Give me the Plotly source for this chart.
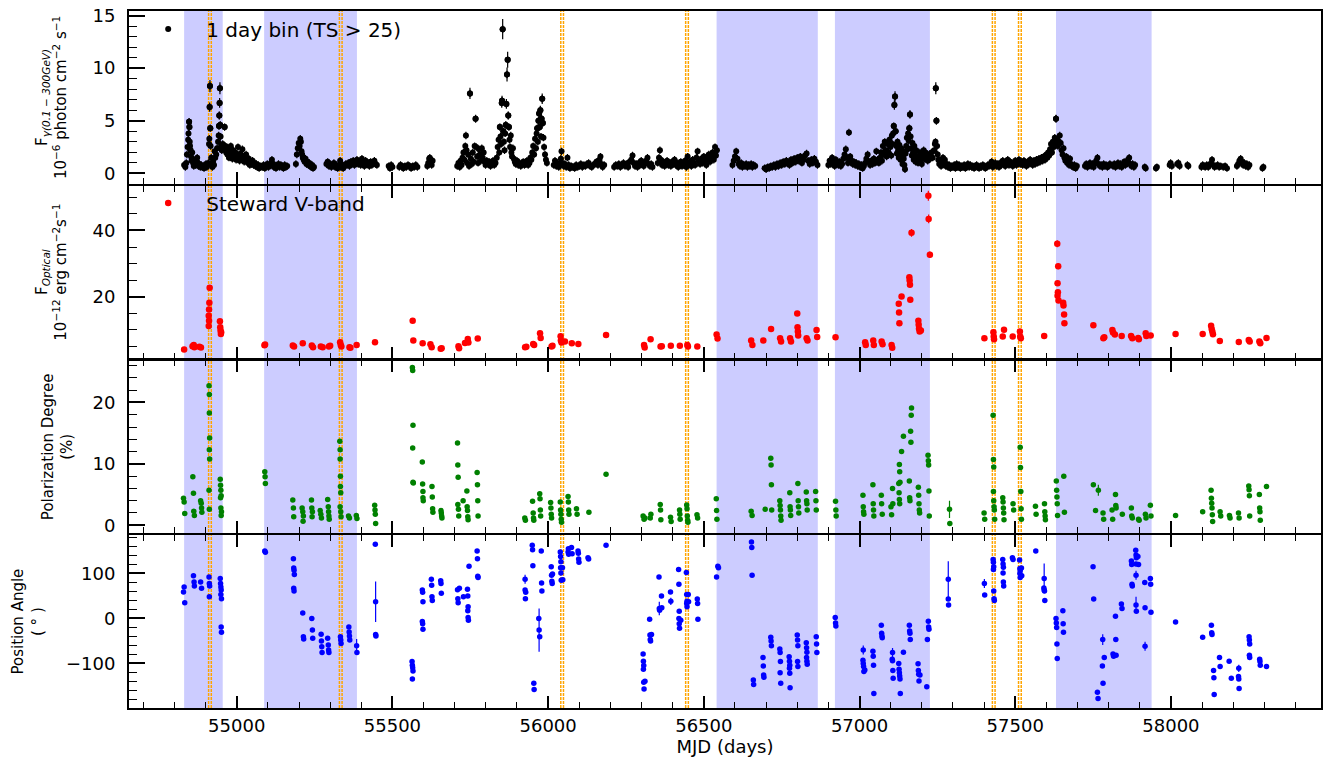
import plotly.graph_objects as go
from plotly.subplots import make_subplots

# ---------------- Fermi-LAT gamma-ray flux, 1 day bins ----------------
gamma_mjd = [
    54831, 54835, 54838, 54840, 54842, 54844, 54845, 54847, 54848, 54849,
    54850, 54852, 54853, 54855, 54857, 54858, 54860, 54862, 54864, 54866,
    54868, 54871, 54873, 54875, 54877, 54880, 54883, 54886, 54889, 54892,
    54895, 54898, 54901, 54904, 54907, 54909, 54911, 54912, 54913, 54914,
    54915, 54916, 54918, 54920, 54922, 54924, 54927, 54929, 54931, 54934,
    54937, 54940, 54942, 54943, 54944, 54945, 54946, 54947, 54948, 54950,
    54952, 54955, 54958, 54961, 54963, 54966, 54968, 54970, 54973, 54975,
    54978, 54981, 54983, 54986, 54989, 54992, 54995, 54998, 55001, 55004,
    55006, 55009, 55012, 55015, 55018, 55021, 55024, 55027, 55030, 55033,
    55036, 55039, 55042, 55045, 55048, 55051, 55054, 55057, 55060, 55063,
    55066, 55069, 55072, 55075, 55082, 55086, 55090, 55094, 55098, 55102,
    55106, 55110, 55113, 55116, 55119, 55122, 55126, 55130, 55134, 55138,
    55142, 55146, 55150, 55154, 55158, 55162, 55190, 55193, 55196, 55199,
    55202, 55204, 55206, 55208, 55210, 55212, 55215, 55218, 55221, 55224,
    55227, 55230, 55233, 55236, 55239, 55242, 55245, 55248, 55288, 55292,
    55296, 55300, 55304, 55308, 55312, 55316, 55320, 55324, 55328, 55332,
    55334, 55338, 55342, 55346, 55350, 55354, 55358, 55362, 55366, 55370,
    55374, 55378, 55382, 55386, 55390, 55394, 55398, 55402, 55406, 55410,
    55414, 55418, 55422, 55426, 55430, 55434, 55438, 55442, 55446, 55450,
    55488, 55492, 55496, 55500, 55522, 55526, 55530, 55535, 55540, 55545,
    55550, 55555, 55560, 55565, 55570, 55575, 55580, 55612, 55615, 55618,
    55620, 55623, 55626, 55629, 55708, 55712, 55716, 55719, 55722, 55725,
    55728, 55731, 55734, 55736, 55738, 55740, 55743, 55746, 55749, 55752,
    55755, 55758, 55761, 55764, 55767, 55769, 55772, 55775, 55778, 55781,
    55784, 55787, 55790, 55793, 55796, 55799, 55803, 55807, 55811, 55815,
    55819, 55823, 55827, 55831, 55835, 55838, 55841, 55843, 55845, 55847,
    55849, 55851, 55852, 55854, 55856, 55858, 55860, 55862, 55864, 55866,
    55868, 55870, 55872, 55874, 55876, 55878, 55880, 55882, 55884, 55887,
    55890, 55893, 55896, 55900, 55904, 55908, 55912, 55916, 55920, 55924,
    55928, 55932, 55936, 55940, 55943, 55946, 55949, 55952, 55955, 55958,
    55961, 55963, 55965, 55967, 55969, 55971, 55973, 55975, 55977, 55979,
    55981, 55983, 55985, 55987, 55990, 55993, 55996, 56018, 56022, 56026,
    56030, 56034, 56038, 56041, 56043, 56046, 56050, 56054, 56058, 56062,
    56066, 56070, 56075, 56080, 56085, 56090, 56095, 56100, 56105, 56110,
    56115, 56120, 56125, 56130, 56135, 56140, 56145, 56150, 56155, 56160,
    56165, 56168, 56171, 56175, 56180, 56212, 56217, 56222, 56227, 56232,
    56237, 56242, 56247, 56252, 56257, 56262, 56267, 56271, 56275, 56279,
    56283, 56287, 56291, 56295, 56299, 56303, 56307, 56311, 56315, 56319,
    56323, 56327, 56331, 56335, 56352, 56356, 56359, 56362, 56366, 56370,
    56374, 56378, 56382, 56386, 56390, 56394, 56398, 56402, 56406, 56410,
    56414, 56418, 56422, 56426, 56430, 56436, 56440, 56444, 56448, 56452,
    56456, 56460, 56464, 56468, 56472, 56476, 56480, 56484, 56488, 56492,
    56496, 56500, 56504, 56508, 56512, 56516, 56520, 56524, 56528, 56532,
    56536, 56539, 56542, 56592, 56596, 56600, 56604, 56608, 56612, 56616,
    56620, 56624, 56628, 56632, 56636, 56640, 56644, 56648, 56652, 56656,
    56660, 56665, 56695, 56700, 56705, 56710, 56715, 56720, 56725, 56730,
    56735, 56740, 56745, 56750, 56755, 56760, 56765, 56770, 56775, 56780,
    56785, 56790, 56795, 56800, 56805, 56810, 56815, 56820, 56825, 56830,
    56835, 56840, 56845, 56850, 56855, 56860, 56865, 56900, 56904, 56908,
    56912, 56916, 56920, 56924, 56928, 56932, 56936, 56940, 56944, 56948,
    56952, 56956, 56960, 56963, 56966, 56970, 56974, 56978, 56982, 56986,
    56990, 56994, 56998, 57002, 57006, 57010, 57014, 57018, 57022, 57026,
    57030, 57034, 57038, 57042, 57046, 57050, 57054, 57058, 57062, 57066,
    57069, 57072, 57075, 57078, 57081, 57084, 57087, 57090, 57093, 57096,
    57099, 57102, 57104, 57106, 57108, 57110, 57112, 57114, 57116, 57118,
    57120, 57122, 57124, 57126, 57128, 57130, 57132, 57134, 57136, 57138,
    57140, 57142, 57144, 57146, 57148, 57150, 57152, 57154, 57156, 57158,
    57160, 57162, 57164, 57166, 57168, 57170, 57172, 57174, 57176, 57178,
    57180, 57182, 57185, 57188, 57191, 57194, 57197, 57200, 57203, 57206,
    57209, 57212, 57215, 57219, 57223, 57227, 57231, 57235, 57240, 57242,
    57244, 57245, 57247, 57249, 57251, 57253, 57256, 57259, 57262, 57265,
    57268, 57271, 57274, 57277, 57280, 57284, 57288, 57292, 57296, 57300,
    57304, 57308, 57312, 57316, 57320, 57324, 57328, 57332, 57336, 57340,
    57344, 57348, 57352, 57356, 57360, 57364, 57368, 57372, 57376, 57380,
    57384, 57388, 57392, 57396, 57400, 57404, 57408, 57412, 57416, 57420,
    57424, 57428, 57432, 57436, 57440, 57444, 57448, 57452, 57456, 57460,
    57464, 57468, 57472, 57476, 57480, 57484, 57488, 57492, 57496, 57500,
    57504, 57508, 57512, 57516, 57520, 57524, 57528, 57532, 57536, 57540,
    57544, 57548, 57552, 57556, 57560, 57564, 57568, 57572, 57576, 57580,
    57584, 57588, 57592, 57596, 57600, 57603, 57606, 57609, 57612, 57615,
    57618, 57621, 57624, 57627, 57629, 57631, 57634, 57637, 57640, 57643,
    57646, 57649, 57652, 57655, 57658, 57661, 57664, 57667, 57670, 57673,
    57676, 57679, 57682, 57686, 57690, 57694, 57698, 57724, 57728, 57732,
    57736, 57740, 57744, 57748, 57752, 57756, 57760, 57764, 57768, 57772,
    57776, 57780, 57784, 57788, 57792, 57796, 57800, 57804, 57814, 57818,
    57822, 57826, 57830, 57834, 57838, 57842, 57846, 57850, 57854, 57858,
    57862, 57866, 57869, 57873, 57877, 57881, 57885, 57916, 57919, 57952,
    57955, 57996, 57999, 58003, 58020, 58024, 58028, 58053, 58056, 58098,
    58102, 58106, 58110, 58115, 58120, 58126, 58132, 58136, 58140, 58145,
    58150, 58155, 58160, 58168, 58174, 58180, 58212, 58216, 58220, 58224,
    58228, 58232, 58236, 58240, 58244, 58248, 58252, 58294, 58297,
]
gamma_flux = [
    0.8, 0.6, 1.0, 1.8, 2.5, 3.2, 3.8, 4.9, 4.4, 3.0,
    2.6, 2.2, 1.6, 1.2, 2.0, 1.4, 1.0, 0.7, 0.9, 1.2,
    0.8, 1.1, 1.5, 1.0, 0.7, 0.9, 0.6, 0.8, 0.6, 0.7,
    0.5, 0.7, 0.9, 0.6, 0.8, 1.0, 2.8, 3.3, 6.3, 8.3,
    4.3, 2.6, 1.5, 0.9, 0.6, 1.1, 0.8, 2.1, 1.5, 1.8,
    2.4, 3.0, 3.6, 4.5, 5.5, 6.7, 8.1, 4.6, 3.5, 2.6,
    2.2, 2.8, 2.4, 4.4, 2.6, 2.0, 2.5, 1.8, 2.2, 1.5,
    2.0, 2.6, 1.7, 1.4, 2.2, 1.6, 2.0, 1.3, 1.8, 2.5,
    1.5, 1.2, 1.9, 1.4, 2.3, 1.6, 1.1, 1.5, 1.8, 1.2,
    1.0, 1.4, 0.8, 1.1, 0.9, 1.2, 0.8, 1.0, 0.7, 0.9,
    0.6, 0.8, 0.5, 0.7, 0.6, 0.8, 0.5, 0.7, 0.9, 0.6,
    0.8, 1.0, 1.3, 0.9, 0.6, 0.8, 0.5, 0.7, 0.9, 0.6,
    0.8, 0.7, 0.5, 0.8, 0.6, 0.7, 0.9, 1.8, 2.4, 2.9,
    2.6, 3.3, 3.0, 2.1, 1.8, 1.5, 1.3, 1.1, 1.4, 0.9,
    1.1, 0.8, 1.0, 0.7, 0.6, 0.8, 0.5, 0.6, 0.9, 1.1,
    0.7, 0.9, 0.6, 0.8, 1.0, 0.6, 0.8, 0.5, 0.7, 1.2,
    0.6, 0.8, 0.5, 0.7, 0.9, 0.8, 1.0, 0.7, 1.1, 0.9,
    1.2, 0.8, 1.0, 1.3, 0.9, 1.1, 0.8, 1.4, 1.0, 0.7,
    1.2, 0.9, 1.0, 0.7, 1.1, 0.8, 1.0, 1.2, 0.9, 0.8,
    0.7, 0.5, 0.8, 0.6, 0.6, 0.8, 0.7, 0.5, 0.7, 0.6,
    0.8, 0.7, 0.5, 0.7, 0.6, 0.8, 0.6, 0.7, 1.0, 1.4,
    1.5, 1.1, 0.8, 1.2, 0.7, 1.0, 0.6, 1.2, 0.8, 1.5,
    2.0, 1.3, 2.6, 3.6, 2.2, 1.0, 1.8, 0.7, 7.6, 1.4,
    0.9, 2.0, 1.1, 2.6, 5.2, 2.5, 1.6, 1.0, 2.3, 1.8,
    1.2, 2.4, 1.5, 2.0, 1.1, 0.8, 1.2, 0.9, 1.1, 0.7,
    0.9, 1.2, 0.8, 1.0, 1.5, 2.5, 3.2, 2.0, 4.4, 3.5,
    2.8, 6.7, 6.9, 13.7, 4.0, 3.0, 2.2, 3.8, 4.6, 6.6,
    9.4, 10.8, 5.5, 4.4, 3.2, 2.5, 3.6, 2.0, 1.6, 2.4,
    1.4, 1.1, 0.9, 1.2, 0.8, 1.0, 0.7, 0.9, 1.1, 0.8,
    0.9, 1.2, 0.8, 1.0, 1.5, 1.3, 2.0, 2.6, 1.8, 3.3,
    2.4, 3.8, 4.3, 3.0, 5.0, 5.7, 4.4, 6.0, 3.5, 5.2,
    7.1, 4.8, 3.4, 2.5, 1.8, 1.3, 1.0, 0.8, 1.2, 0.7,
    1.0, 0.6, 0.9, 1.4, 2.1, 1.0, 0.7, 0.9, 0.6, 1.5,
    0.8, 0.5, 0.7, 0.6, 0.5, 0.8, 0.6, 0.7, 0.9, 0.6,
    0.8, 0.7, 0.9, 1.0, 0.7, 0.6, 0.8, 0.9, 1.1, 0.8,
    1.3, 1.6, 0.9, 0.6, 0.8, 0.6, 0.8, 0.7, 0.9, 0.6,
    0.8, 1.0, 0.7, 0.9, 0.6, 1.1, 1.3, 1.7, 1.0, 0.7,
    0.9, 0.6, 1.0, 0.8, 1.2, 0.9, 0.7, 1.0, 1.2, 1.5,
    0.9, 0.7, 0.9, 0.6, 1.0, 1.5, 2.2, 1.3, 0.8, 1.1,
    0.7, 0.9, 1.2, 0.8, 1.0, 0.7, 1.1, 0.9, 1.3, 0.8,
    1.0, 0.6, 0.9, 1.1, 0.7, 0.8, 1.2, 0.6, 1.6, 0.9,
    1.1, 0.7, 1.3, 1.0, 0.8, 1.5, 2.1, 1.2, 0.9, 1.4,
    1.0, 1.6, 1.2, 0.8, 1.4, 1.8, 1.1, 1.6, 2.0, 1.3,
    2.5, 1.7, 2.2, 0.8, 1.2, 1.6, 2.1, 1.4, 0.9, 0.7,
    1.0, 0.6, 0.8, 0.7, 0.9, 0.6, 0.8, 0.7, 0.9, 0.6,
    0.8, 0.7, 0.5, 0.4, 0.6, 0.5, 0.7, 0.6, 0.8, 0.6,
    0.9, 0.7, 1.0, 0.8, 1.1, 0.9, 1.2, 1.0, 0.8, 1.3,
    1.0, 1.4, 1.1, 1.5, 1.2, 1.6, 1.0, 1.3, 1.7, 1.9,
    1.2, 0.9, 1.3, 1.0, 1.4, 1.1, 0.8, 0.8, 1.2, 0.9,
    1.5, 1.0, 0.7, 1.3, 1.0, 0.8, 1.1, 0.7, 0.9, 1.4,
    1.8, 2.3, 1.5, 1.0, 3.9, 1.6, 1.2, 0.9, 1.1, 0.8,
    1.0, 0.7, 0.9, 0.6, 0.8, 0.5, 0.7, 1.0, 1.4, 1.8,
    1.1, 0.8, 1.2, 0.9, 1.4, 1.0, 2.1, 1.3, 1.0, 1.5,
    2.0, 1.2, 2.6, 1.8, 3.0, 2.2, 1.6, 2.8, 2.0, 3.2,
    2.5, 1.7, 3.6, 2.8, 3.8, 4.5, 6.5, 7.3, 4.0, 2.6,
    1.9, 3.0, 2.2, 1.5, 2.7, 2.0, 1.3, 2.4, 1.8, 0.9,
    2.1, 1.4, 0.8, 0.4, 1.9, 2.6, 3.4, 2.3, 3.8, 3.1,
    4.3, 5.6, 3.5, 2.4, 1.7, 2.9, 2.0, 1.3, 2.6, 1.8,
    1.1, 2.2, 1.5, 1.0, 1.6, 2.0, 1.2, 0.9, 1.7, 2.2,
    1.4, 2.0, 1.6, 1.2, 1.8, 1.4, 2.0, 1.5, 2.2, 2.8,
    3.0, 8.1, 5.0, 2.6, 1.8, 1.3, 0.9, 1.2, 0.7, 1.0,
    1.5, 0.9, 1.3, 0.7, 0.9, 0.6, 0.8, 0.5, 0.7, 0.6,
    0.8, 0.5, 0.9, 0.6, 0.8, 0.5, 0.7, 0.6, 0.8, 0.5,
    0.7, 0.9, 0.6, 0.8, 0.6, 0.7, 0.5, 0.7, 0.8, 0.6,
    0.5, 0.7, 0.6, 0.8, 0.7, 0.5, 0.6, 0.8, 0.7, 0.9,
    1.1, 0.6, 0.8, 1.0, 0.7, 0.9, 0.6, 1.0, 0.8, 1.2,
    0.9, 0.7, 1.0, 1.3, 0.8, 1.1, 0.9, 0.7, 1.0, 1.2,
    0.8, 1.0, 1.3, 0.9, 1.1, 0.8, 1.2, 1.0, 0.7, 1.1,
    0.9, 1.3, 1.0, 0.8, 1.2, 0.9, 1.3, 1.0, 1.4, 1.1,
    1.5, 1.2, 1.6, 1.3, 1.8, 1.5, 2.0, 1.7, 2.3, 2.8,
    2.0, 3.0, 2.5, 3.4, 2.7, 5.2, 3.2, 2.6, 3.0, 3.6,
    2.9, 2.2, 1.8, 2.4, 1.5, 1.2, 1.6, 1.0, 1.3, 0.8,
    1.4, 0.9, 0.7, 0.6, 0.8, 0.5, 0.7, 0.7, 0.9, 0.6,
    0.8, 1.0, 0.7, 0.9, 0.6, 1.0, 1.2, 1.5, 0.9, 0.7,
    0.8, 0.6, 0.9, 0.7, 0.8, 0.6, 0.7, 0.9, 0.7, 0.9,
    0.6, 0.8, 1.0, 0.7, 0.9, 0.6, 0.8, 1.1, 0.8, 1.0,
    1.3, 1.5, 0.9, 0.7, 0.9, 0.6, 0.8, 0.6, 0.5, 0.5,
    0.6, 0.8, 1.0, 0.7, 0.9, 1.0, 0.7, 0.8, 0.7, 0.6,
    0.8, 0.7, 0.6, 0.8, 0.6, 0.9, 1.3, 0.8, 0.6, 0.7,
    0.8, 0.6, 0.7, 0.6, 0.7, 0.5, 0.7, 0.9, 1.2, 1.4,
    1.1, 0.8, 1.0, 0.7, 0.9, 0.6, 0.8, 0.5, 0.6,
]

# ---------------- Steward optical V-band flux ----------------
opt_mjd = [
    54831, 54858, 54862, 54864, 54880, 54885,
    54913, 54912, 54911, 54910, 54911, 54910,
    54946, 54947, 54948, 54949, 54950,
    55091, 55089, 55180, 55184, 55212, 55241, 55245, 55270, 55276, 55296, 55300,
    55332, 55334, 55336, 55362, 55365, 55385, 55444,
    55565, 55567, 55597, 55622, 55626, 55655, 55658,
    55712, 55714, 55733, 55742, 55744, 55774,
    55926, 55930, 55952, 55955, 55974, 55976, 56011, 56014,
    56040, 56041, 56043, 56054, 56076, 56097, 56186,
    56308, 56310, 56329, 56361, 56365, 56394, 56423, 56447, 56449, 56479,
    56541, 56544, 56652, 56656, 56691, 56716, 56745, 56748, 56777, 56780,
    56800, 56801, 56802, 56803, 56830, 56833, 56862, 56864, 56923,
    57018, 57020, 57044, 57046, 57071, 57074, 57103, 57105,
    57126, 57128, 57127, 57135, 57160, 57161, 57162, 57163, 57167,
    57189, 57190, 57191, 57193, 57197,
    57221, 57222, 57226,
    57401, 57430, 57431, 57432, 57460, 57464, 57492, 57515, 57516, 57518, 57593,
    57635, 57638, 57636, 57637, 57636, 57639, 57654, 57655, 57657, 57658,
    57751, 57783, 57786, 57812, 57814, 57820, 57842, 57872, 57876, 57895, 57897,
    57919, 57921, 57935, 58015, 58102, 58129, 58131, 58133, 58135, 58157,
    58218, 58250, 58253, 58284, 58287, 58307,
]
opt_flux = [
    4.1, 5.1, 5.5, 4.8, 4.9, 4.7,
    22.7, 18.2, 16.2, 14.3, 12.8, 11.2,
    12.6, 10.8, 9.8, 8.8, 9.3,
    5.6, 5.4, 5.3, 5.0, 6.0, 5.3, 4.8, 5.0, 4.8, 5.0, 5.2,
    6.3, 5.5, 5.0, 4.8, 4.6, 5.5, 6.3,
    12.8, 6.8, 6.0, 5.7, 4.8, 4.3, 4.5,
    5.1, 4.5, 6.1, 7.3, 6.2, 7.4,
    4.8, 4.9, 5.8, 5.5, 9.0, 7.6, 5.0, 5.2,
    8.1, 6.8, 6.2, 6.5, 6.0, 5.8, 8.5,
    5.5, 4.7, 7.2, 5.0, 5.1, 5.2, 5.2, 5.5, 5.0, 5.0,
    8.6, 7.4, 6.8, 5.5, 6.8, 10.3, 7.5, 6.5, 7.5, 6.5,
    15.0, 10.8, 9.5, 8.3, 7.5, 6.8, 10.0, 7.9, 7.8,
    6.3, 5.5, 6.8, 5.5, 6.5, 5.7, 5.5, 4.6,
    17.9, 12.0, 15.3, 20.1, 25.9, 24.9, 23.6, 19.1, 39.3,
    12.8, 11.6, 10.4, 9.5, 9.8,
    50.5, 43.5, 32.7,
    7.5, 9.3, 8.0, 7.2, 8.0, 10.1, 8.0, 9.5, 8.0, 7.5, 8.2,
    36.0, 29.2, 24.1, 21.4, 20.3, 18.9, 18.2, 17.4, 14.7, 12.0,
    11.4, 7.5, 7.8, 10.0, 9.2, 8.6, 8.2, 8.2, 7.5, 7.6, 7.2,
    9.0, 8.2, 8.3, 8.8, 8.8, 11.3, 10.3, 9.5, 8.7, 6.7,
    6.4, 7.0, 6.5, 6.5, 6.0, 7.6,
]

# ---------------- Optical polarization degree (%) ----------------
pd_mjd = [
    54829, 54831, 54833,
    54859, 54861, 54862, 54864,
    54884, 54886, 54887, 54888,
    54911, 54912, 54912, 54913, 54912, 54913, 54911, 54912,
    54947, 54948, 54949, 54950, 54948, 54949, 54951, 54950,
    55090, 55091, 55092,
    55180, 55182, 55183,
    55210, 55212, 55213, 55214,
    55240, 55241, 55243, 55242,
    55268, 55270, 55272,
    55292, 55294, 55295, 55296, 55297,
    55331, 55332, 55332, 55333, 55333, 55334, 55332, 55334, 55335,
    55359, 55362, 55384, 55386,
    55443, 55444, 55445, 55446,
    55564, 55565, 55566, 55565, 55566, 55567,
    55596, 55597, 55598, 55598, 55599,
    55627, 55628, 55629, 55630,
    55656, 55657, 55658, 55659,
    55709, 55710, 55711, 55710, 55712, 55713,
    55727,
    55739, 55740, 55741, 55742, 55743,
    55772, 55773, 55774, 55775,
    55925, 55927,
    55950, 55952, 55953, 55954,
    55973, 55974, 55975, 55976,
    56008, 56009, 56010, 56011,
    56039, 56040, 56041, 56042, 56043,
    56064, 56065, 56066, 56067,
    56091, 56093, 56131, 56186,
    56305, 56308, 56311, 56328, 56330,
    56360, 56361, 56362, 56393, 56395,
    56422, 56423, 56424,
    56445, 56446, 56447, 56448, 56449,
    56478, 56480, 56540, 56541, 56542,
    56652, 56655, 56697,
    56715, 56716, 56717, 56718,
    56744, 56745, 56746, 56747, 56748,
    56776, 56777, 56778, 56779,
    56802, 56803, 56804, 56805,
    56829, 56830, 56831, 56832,
    56859, 56860, 56861,
    56923, 56924, 56925,
    57011, 57012, 57013, 57014,
    57043, 57044, 57045, 57046,
    57070, 57071, 57073,
    57101, 57103, 57106, 57107,
    57126, 57127, 57128, 57129, 57128, 57129, 57130,
    57135, 57141,
    57160, 57161, 57162,
    57164, 57165, 57166, 57167,
    57189, 57190, 57191, 57192, 57193,
    57220, 57221, 57222, 57223, 57224,
    57290, 57400, 57402,
    57429, 57430, 57431, 57430, 57431, 57432, 57433, 57434,
    57460, 57461, 57462, 57463, 57464,
    57493, 57495,
    57516, 57517, 57518, 57519, 57520,
    57565, 57567,
    57594, 57595, 57596, 57597,
    57632, 57633, 57634, 57635, 57636,
    57656, 57658, 57751, 57758,
    57782, 57784, 57811, 57813,
    57822, 57823, 57824, 57844,
    57873, 57874, 57876, 57896, 57898,
    57918, 57920, 57934, 57936,
    58015, 58102,
    58129, 58130, 58131, 58132, 58133, 58134,
    58158, 58160, 58188, 58190, 58217, 58219,
    58250, 58251, 58252, 58253,
    58284, 58285, 58286, 58287,
    58307,
]
pd_val = [
    4.4, 3.8, 1.9,
    7.9, 5.2, 2.3, 1.6,
    4.0, 3.6, 2.8, 2.1,
    22.7, 21.3, 18.3, 14.2, 12.3, 10.8, 5.7, 2.6,
    7.5, 6.5, 5.7, 4.8, 4.5, 2.8, 2.2, 1.6,
    8.7, 7.9, 6.8,
    4.1, 2.8, 1.4,
    2.8, 2.2, 0.65, 1.5,
    4.1, 2.8, 2.2, 1.4,
    2.4, 1.8, 1.2,
    4.2, 3.0, 2.2, 1.5, 1.0,
    13.7, 12.3, 10.8, 8.0, 6.3, 5.3, 3.0, 2.2, 1.4,
    1.5, 1.2, 1.6, 1.1,
    3.25, 2.5, 1.8, 0.3,
    25.7, 25.2, 16.3, 12.6, 7.0, 6.9,
    10.3, 6.7, 5.5, 4.5, 4.0,
    6.3, 4.6, 2.7, 2.1,
    2.4, 2.0, 1.5, 1.2,
    13.4, 9.8, 7.8, 3.4, 2.6, 1.5,
    4.0,
    5.6, 3.0, 2.4, 1.4, 0.9,
    8.6, 6.6, 4.0, 1.5,
    1.2, 0.8,
    3.9, 2.0, 1.2, 0.8,
    5.15, 4.3, 2.5, 1.5,
    3.7, 2.8, 1.8, 1.2,
    3.8, 2.5, 1.8, 1.0, 0.5,
    4.7, 3.8, 2.5, 1.8,
    2.7, 1.8, 2.1, 8.3,
    1.5, 1.0, 1.2, 1.2, 1.8,
    3.4, 2.5, 0.9, 1.3, 0.6,
    2.5, 1.8, 1.0,
    3.3, 2.7, 1.5, 0.8, 0.5,
    1.7, 1.2, 4.3, 2.4, 1.0,
    2.3, 1.6, 2.6,
    10.9, 9.8, 6.6, 2.5,
    4.0, 3.2, 2.5, 1.5, 0.8,
    5.3, 3.0, 2.5, 1.6,
    6.8, 4.0, 3.0, 2.0,
    5.4, 4.0, 3.5, 2.5,
    5.5, 4.0, 2.5,
    3.9, 2.5, 1.5,
    4.9, 3.0, 2.2, 1.8,
    6.6, 3.5, 2.5, 1.5,
    4.9, 3.5, 1.8,
    3.0, 1.7, 6.0, 3.5,
    6.8, 5.3, 4.2, 3.5, 9.9, 8.7, 7.0,
    12.0, 14.5,
    7.2, 4.5, 4.0,
    15.3, 13.5, 17.9, 19.1,
    6.2, 4.9, 3.5, 2.5, 2.0,
    11.4, 10.5, 9.8, 5.6, 1.5,
    0.3, 2.0, 1.0,
    17.9, 10.7, 9.5, 5.5, 4.0, 3.0, 2.5, 1.0,
    4.5, 3.8, 2.8, 2.0, 0.9,
    3.5, 2.5,
    12.7, 9.4, 5.5, 2.7, 1.0,
    3.1, 1.8,
    3.5, 2.2, 1.5, 0.9,
    7.2, 5.7, 4.6, 3.5, 1.6,
    8.0, 2.1, 6.6, 2.4,
    2.0, 1.0, 2.5, 1.0,
    5.0, 3.2, 2.8, 1.8,
    2.8, 1.5, 1.2, 1.0, 0.8,
    1.8, 1.2, 3.25, 1.5,
    1.6, 2.2,
    5.7, 4.4, 3.6, 2.8, 1.7, 0.6,
    2.2, 1.5, 1.6, 1.2, 2.0, 1.2,
    6.4, 5.8, 4.8, 1.5,
    5.0, 2.8, 2.2, 0.8,
    6.3,
]
# points with clearly visible error bars
pd_wide_mjd = [57289, 57767]
pd_wide_val = [2.6, 5.7]
pd_wide_err = [1.4, 0.9]

# ---------------- Optical polarization position angle (deg) ----------------
pa_mjd = [
    54829, 54831, 54833, 54861, 54863, 54864, 54884, 54887,
    54911, 54912, 54913, 54912,
    54947, 54948, 54949, 54950, 54949, 54951, 54950, 54951,
    55090, 55092,
    55182, 55183, 55184, 55185, 55183, 55184,
    55212, 55214, 55215, 55241, 55243, 55244,
    55271, 55272, 55273, 55274,
    55292, 55294, 55295, 55296,
    55333, 55334, 55335,
    55360, 55361, 55362, 55363, 55386,
    55445, 55446, 55447,
    55563, 55564, 55565, 55566, 55564,
    55596, 55597, 55598, 55596, 55597, 55598,
    55625, 55626, 55627, 55628,
    55655, 55656, 55657,
    55709, 55710, 55711, 55715, 55728,
    55741, 55742, 55743, 55742, 55743, 55744, 55746,
    55772, 55773, 55774, 55775,
    55926, 55927, 55928,
    55949, 55950, 55951, 55954, 55955,
    55970, 55973, 55978, 55979, 55980,
    56010, 56011, 56012, 56013, 56014,
    56039, 56040, 56041, 56040, 56041, 56042, 56046, 56047,
    56064, 56065, 56066, 56075, 56077,
    56096, 56097, 56098, 56099, 56128, 56130, 56186,
    56305, 56306, 56307, 56306, 56307, 56308, 56311,
    56326, 56327, 56328, 56329, 56332,
    56356, 56358, 56364, 56365, 56393,
    56419, 56420, 56421, 56420, 56421, 56422, 56426,
    56444, 56445, 56446, 56445, 56446, 56450, 56451,
    56479, 56480, 56481, 56541, 56545, 56547,
    56653, 56654, 56655, 56659, 56660,
    56690, 56691, 56692, 56693,
    56715, 56716, 56717,
    56744, 56745, 56746, 56745, 56747,
    56774, 56775, 56776, 56775, 56776, 56777,
    56800, 56801, 56802, 56801, 56802,
    56829, 56830, 56831, 56830, 56831, 56832,
    56861, 56862, 56863, 56922, 56923, 56924,
    57011, 57012, 57013, 57014, 57017,
    57043, 57044, 57045, 57046,
    57070, 57071, 57072, 57073,
    57105, 57106, 57107, 57108,
    57126, 57127, 57128, 57129, 57130, 57131, 57141,
    57160, 57161, 57162, 57163,
    57188, 57189, 57190, 57191, 57194,
    57216, 57218, 57221, 57222, 57223,
    57285, 57286, 57402,
    57429, 57430, 57431, 57430, 57431, 57432, 57433,
    57460, 57461, 57462, 57461, 57462, 57463,
    57491, 57493,
    57514, 57515, 57516, 57515, 57516, 57520, 57521,
    57566, 57592, 57593, 57594, 57595,
    57631, 57632, 57633, 57634, 57635,
    57653, 57654, 57655,
    57750, 57752, 57764, 57766, 57780, 57782, 57786,
    57814, 57816, 57822, 57823, 57824, 57841, 57843,
    57873, 57874, 57875, 57876,
    57887, 57888, 57889, 57888, 57889, 57894, 57896,
    57916, 57917, 57934, 57935, 57936,
    58015, 58102, 58130, 58131, 58132, 58137, 58138, 58139,
    58156, 58158, 58187, 58194, 58217, 58218, 58219,
    58251, 58252, 58253, 58252, 58253,
    58285, 58286, 58287, 58307,
]
pa_val = [
    59, 70, 35, 95, 81, 72, 81, 67,
    92, 78, 72, 48,
    89, 78, 70, 63, 53, 44, -19, -31,
    150, 147,
    133, 112, 107, 98, 67, 61,
    12, -41, -46, 0, -26, -44,
    -35, -50, -63, -76,
    -44, -59, -70, -76,
    -41, -48, -56,
    -19, -30, -39, -48, -76,
    165, -36, -39,
    -96, -104, -110, -117, -135,
    63, 58, 37, -7, -12, -24,
    87, 74, 48, 40,
    84, 78, 56,
    64, 44, 35, 67, 48,
    65, 50, 26, 17, 2, -4, 116,
    150, 133, 94, 91,
    63, 44, 58,
    163, 153, 117, -144, -158,
    0, -41, 150, 79, 61,
    115, 96, 83, 78, 99,
    148, 138, 126, 113, 101, 85, 113, 86,
    148, 155, 143, 158, 144,
    150, 145, 132, 125, 135, 132, 163,
    -79, -95, -105, -113, -142, -157, -140,
    -2, -37, -47, -50, -36,
    92, 18, 50, 24, 59,
    109, 76, 16, 0, -12, -22, -4,
    102, 53, 38, 33, 26, 53, 37,
    43, 33, -2, 92, 116, 113,
    170, 158, 96, -137, -147,
    -87, -106, -126, -131,
    -42, -50, -61,
    -68, -76, -96, -121, -144,
    -85, -95, -104, -111, -122, -154,
    -37, -48, -61, -96, -107,
    -54, -65, -75, -87, -95, -102,
    -41, -57, -76, 2, -10, -17,
    -93, -100, -107, -118, -115,
    -73, -84, -104, -167,
    -15, -33, -39, -43,
    -91, -94, -116, -133,
    -100, -113, -121, -128, -135, -167, -75,
    -15, -28, -33, -47,
    -101, -116, -124, -139, -126,
    -152, -47, -6, -19, -24,
    43, 30, 52,
    131, 125, 115, 109, 61, 44, 40,
    131, 121, 114, 101, 81, 72,
    135, 131,
    130, 111, 106, 100, 91, 112, 95,
    150, 68, 63, 61, 40,
    0, -10, -20, -57, -89,
    17, -12, -31,
    115, 43, -164, -178, -106, -144, -87,
    -79, -84, 5, -47, -82, 32, 22,
    128, 120, 76, 72,
    152, 141, 135, 121, 16, 138, 120,
    80, 24, 89, 76, 14,
    -8, -42, -15, -32, -36, -116, -132, -169,
    -87, -107, -95, -133, -129, -135, -156,
    -41, -48, -57, -82, -87,
    -91, -96, -104, -107,
]
# points with clearly visible error bars
pa_wide_mjd = [55385, 55446, 55971, 55926, 56357, 56394, 57012, 57106,
               57285, 57401, 57593, 57781, 57888, 57888, 57917, 58218]
pa_wide_val = [-61, 37, -26, 87, 22, 38, -70, -76,
               87, 78, 89, -47, 96, 30, -62, -111]
pa_wide_err = [15, 45, 48, 10, 15, 8, 10, 10,
               40, 10, 33, 12, 10, 18, 10, 8]

# ---------------- Shaded intervals and flare markers (MJD) ----------------
shade_start = [54831, 55088, 56541, 56921, 57631]
shade_end = [54955, 55386, 56866, 57226, 57938]
flare_mjd = [54914, 55334, 56045, 56446, 57431, 57515]

for a, b in [(gamma_mjd, gamma_flux), (opt_mjd, opt_flux), (pd_mjd, pd_val), (pa_mjd, pa_val)]:
    assert len(a) == len(b), (len(a), len(b))

FONT = "DejaVu Sans"
BLACK = "black"

# bright gamma points, whose error bars are drawn proportionally larger
gamma_hi_mjd = [m for m, f in zip(gamma_mjd, gamma_flux) if f >= 4]
gamma_hi_flux = [f for f in gamma_flux if f >= 4]

PLOT_H = 698.0
fig = make_subplots(rows=4, cols=1, shared_xaxes=True, vertical_spacing=2.0 / PLOT_H)

fig.add_trace(go.Scatter(
    x=gamma_mjd, y=gamma_flux, mode="markers", name="1 day bin (TS > 25)",
    marker=dict(color=BLACK, size=6),
    error_y=dict(type="constant", value=0.35, color=BLACK, thickness=1.2, width=0),
    legend="legend"), row=1, col=1)
fig.add_trace(go.Scatter(
    x=gamma_hi_mjd, y=gamma_hi_flux, mode="markers", showlegend=False,
    marker=dict(color=BLACK, size=6),
    error_y=dict(type="percent", value=7, color=BLACK, thickness=1.2, width=0)),
    row=1, col=1)

fig.add_trace(go.Scatter(
    x=opt_mjd, y=opt_flux, mode="markers", name="Steward V-band",
    marker=dict(color="#ff0000", size=6.5),
    error_y=dict(type="percent", value=3, color="#ff0000", thickness=1.2, width=0),
    legend="legend2"), row=2, col=1)

fig.add_trace(go.Scatter(
    x=pd_mjd, y=pd_val, mode="markers", showlegend=False,
    marker=dict(color="#008000", size=5.5),
    error_y=dict(type="constant", value=0.3, color="#008000", thickness=1.2, width=0)),
    row=3, col=1)
fig.add_trace(go.Scatter(
    x=pd_wide_mjd, y=pd_wide_val, mode="markers", showlegend=False,
    marker=dict(color="#008000", size=5.5),
    error_y=dict(type="data", array=pd_wide_err, color="#008000", thickness=1.2, width=0)),
    row=3, col=1)

fig.add_trace(go.Scatter(
    x=pa_mjd, y=pa_val, mode="markers", showlegend=False,
    marker=dict(color="#0000ff", size=5.5),
    error_y=dict(type="constant", value=3, color="#0000ff", thickness=1.2, width=0)),
    row=4, col=1)
fig.add_trace(go.Scatter(
    x=pa_wide_mjd, y=pa_wide_val, mode="markers", showlegend=False,
    marker=dict(color="#0000ff", size=5.5),
    error_y=dict(type="data", array=pa_wide_err, color="#0000ff", thickness=1.2, width=0)),
    row=4, col=1)

for a, b in zip(shade_start, shade_end):
    fig.add_shape(type="rect", xref="x", yref="paper", x0=a, x1=b, y0=0, y1=1,
                  fillcolor="rgb(204,204,255)", line_width=0, layer="below")
for m in flare_mjd:
    for off in (-4.3, 4.3):
        fig.add_shape(type="line", xref="x", yref="paper", x0=m + off, x1=m + off,
                      y0=0, y1=1, layer="below",
                      line=dict(color="#FFA500", width=1.5, dash="3px,1px"))

yconf = [
    dict(range=[-0.98, 15.43], dtick=5, minor=1, standoff=22,
         title="F<sub><i>γ(0.1 − 300GeV)</i></sub><br>10<sup>−6</sup> photon cm<sup>−2</sup> s<sup>−1</sup>"),
    dict(range=[1.39, 53.5], dtick=20, minor=5, standoff=22,
         title="F<sub><i>Optical</i></sub><br>10<sup>−12</sup> erg cm<sup>−2</sup>s<sup>−1</sup>"),
    dict(range=[-1.30, 26.83], dtick=10, minor=2, standoff=16,
         title="Polarization Degree<br>(%)"),
    dict(range=[-199.3, 185.1], dtick=100, minor=20, standoff=19,
         title="Position Angle<br>( ° )"),
]

for r in range(1, 5):
    c = yconf[r - 1]
    fig.update_yaxes(
        row=r, col=1, range=c["range"], tick0=0, dtick=c["dtick"], automargin=False,
        ticks="inside", ticklen=16, tickwidth=2, tickcolor=BLACK,
        minor=dict(dtick=c["minor"], tick0=0, ticks="inside", ticklen=8,
                   tickwidth=1.3, tickcolor=BLACK),
        showline=True, linewidth=2, linecolor=BLACK, mirror=True,
        showgrid=False, zeroline=False, ticklabelstandoff=8,
        ticklabeloverflow="allow",
        tickfont=dict(family=FONT, size=18, color=BLACK),
        title=dict(text=c["title"], standoff=c["standoff"],
                   font=dict(family=FONT, size=15, color=BLACK)))
    fig.update_xaxes(
        row=r, col=1, range=[54654, 58482], tick0=55000, dtick=500, automargin=False,
        tickformat="d",
        ticks="inside", ticklen=12, tickwidth=2, tickcolor=BLACK,
        minor=dict(dtick=100, tick0=55000, ticks="inside", ticklen=6,
                   tickwidth=1.3, tickcolor=BLACK),
        showline=True, linewidth=2, linecolor=BLACK,
        mirror=("ticks" if r > 1 else True),
        showgrid=False, zeroline=False,
        tickfont=dict(family=FONT, size=18, color=BLACK))

fig.update_xaxes(row=4, col=1, showticklabels=True,
                 title=dict(text="MJD (days)", standoff=6,
                            font=dict(family=FONT, size=18, color=BLACK)))

legend_common = dict(xanchor="left", yanchor="middle", bgcolor="rgba(0,0,0,0)",
                     borderwidth=0, itemwidth=66,
                     font=dict(family=FONT, size=20, color=BLACK))
# the page places the figure 8 px from the top-left corner of the window,
# so the figure is sized and its margins set to fill the window exactly
fig.update_layout(
    width=1328, height=753,
    margin=dict(l=121, r=15, t=2, b=53),
    paper_bgcolor="white", plot_bgcolor="white",
    font=dict(family=FONT, color=BLACK),
    legend=dict(x=0.001, y=0.9728, **legend_common),
    legend2=dict(x=0.001, y=0.7235, **legend_common),
)

fig.write_html("out.html")
